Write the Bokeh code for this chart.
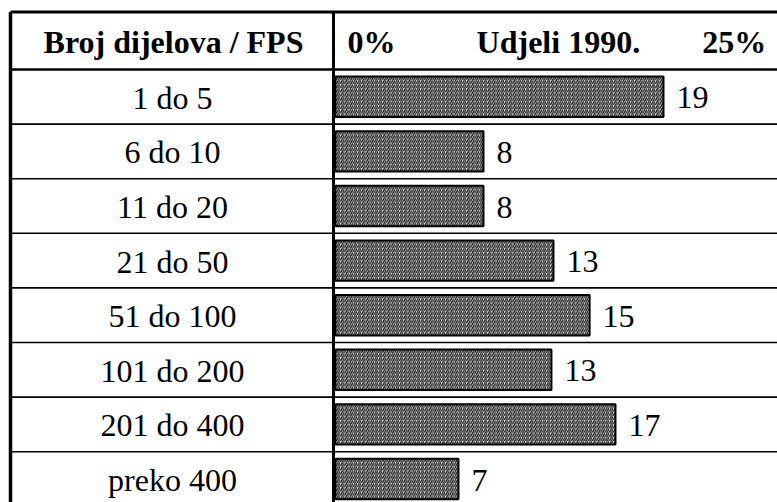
from bokeh.plotting import figure
from bokeh.models import Range1d, ColumnDataSource
from bokeh.core.properties import value
from bokeh.embed import file_html
from bokeh.resources import INLINE

# ---- data ----
categories = ["1 do 5", "6 do 10", "11 do 20", "21 do 50", "51 do 100",
              "101 do 200", "201 do 400", "preko 400"]
shares = [19.26, 8.69, 8.69, 12.80, 14.92, 12.68, 16.44, 7.22]   # bar lengths (%)
share_labels = ["19", "8", "8", "13", "15", "13", "17", "7"]    # printed values
header_left = "Broj dijelova / FPS"
header_title = "Udjeli 1990."
tick_values = [0, 25]
tick_labels = ["0%", "25%"]

# ---- layout (pixels inside the figure) ----
W, H = 777, 502
PX_PER_UNIT = 17.03
X0_PX = 335          # where 0 % sits
ROW_PX = 54.6
HEAD_BOTTOM_PX = 69
FONT = value("Liberation Serif")
FS = "32px"


def xd(px):
    return (px - X0_PX) / PX_PER_UNIT


def yd(py):
    return 0.5 + (py - HEAD_BOTTOM_PX) / ROW_PX


p = figure(width=W, height=H, output_backend="svg", toolbar_location=None,
           x_range=Range1d(xd(0), xd(W)), y_range=Range1d(yd(H), yd(0)),
           min_border=0, x_axis_location=None, y_axis_location=None)
p.grid.visible = False
p.outline_line_color = None
p.background_fill_color = "white"
p.border_fill_color = "white"

rows = list(range(1, len(categories) + 1))
src = ColumnDataSource(dict(
    row=rows,
    share=shares,
    cat=categories,
    lab=share_labels,
    ty=[r + 0.02 for r in rows],
    cx=[xd(172)] * len(rows),
))

# bars
p.hbar(y="row", left=0, right="share", height=0.74, source=src,
       fill_color="#f2f2f2", line_color="black", line_width=2,
       hatch_pattern="/", hatch_color="#1a1a1a", hatch_scale=4.2, hatch_weight=1.3)

# value labels
p.text(x="share", y="ty", text="lab", source=src, x_offset=13,
       text_font=FONT, text_font_size=FS, text_align="left",
       text_baseline="middle", text_color="black")

# category labels
p.text(x="cx", y="ty", text="cat", source=src,
       text_font=FONT, text_font_size=FS, text_align="center",
       text_baseline="middle", text_color="black")

# header texts
hy = yd(41)
p.text(x=[xd(173)], y=[hy], text=[header_left], text_font=FONT, text_font_size=FS,
       text_font_style="bold", text_align="center", text_baseline="middle")
p.text(x=[tick_values[0]], y=[hy], text=[tick_labels[0]], x_offset=12,
       text_font=FONT, text_font_size=FS, text_font_style="bold",
       text_align="left", text_baseline="middle")
p.text(x=[tick_values[1]], y=[hy], text=[tick_labels[1]], x_offset=5,
       text_font=FONT, text_font_size=FS, text_font_style="bold",
       text_align="right", text_baseline="middle")
p.text(x=[(tick_values[0] + tick_values[1]) / 2], y=[hy], text=[header_title], x_offset=10,
       text_font=FONT, text_font_size=FS, text_font_style="bold",
       text_align="center", text_baseline="middle")

# table rules
xl, xr = xd(10), xd(W + 2)
ytop, ybot = yd(11.5), yd(H + 5)
p.segment(x0=[xl] * 7, y0=[r + 0.5 for r in rows[:-1]], x1=[xr] * 7,
          y1=[r + 0.5 for r in rows[:-1]], line_color="black", line_width=1.6)
p.segment(x0=[xl], y0=[0.5], x1=[xr], y1=[0.5], line_color="black", line_width=2.6)
p.segment(x0=[xl], y0=[ytop], x1=[xr], y1=[ytop], line_color="black", line_width=3)
p.segment(x0=[xl], y0=[ytop], x1=[xl], y1=[ybot], line_color="black", line_width=3.5)
p.segment(x0=[xd(333)], y0=[ytop], x1=[xd(333)], y1=[ybot], line_color="black", line_width=3)

open("out.html", "w").write(file_html(p, INLINE))
